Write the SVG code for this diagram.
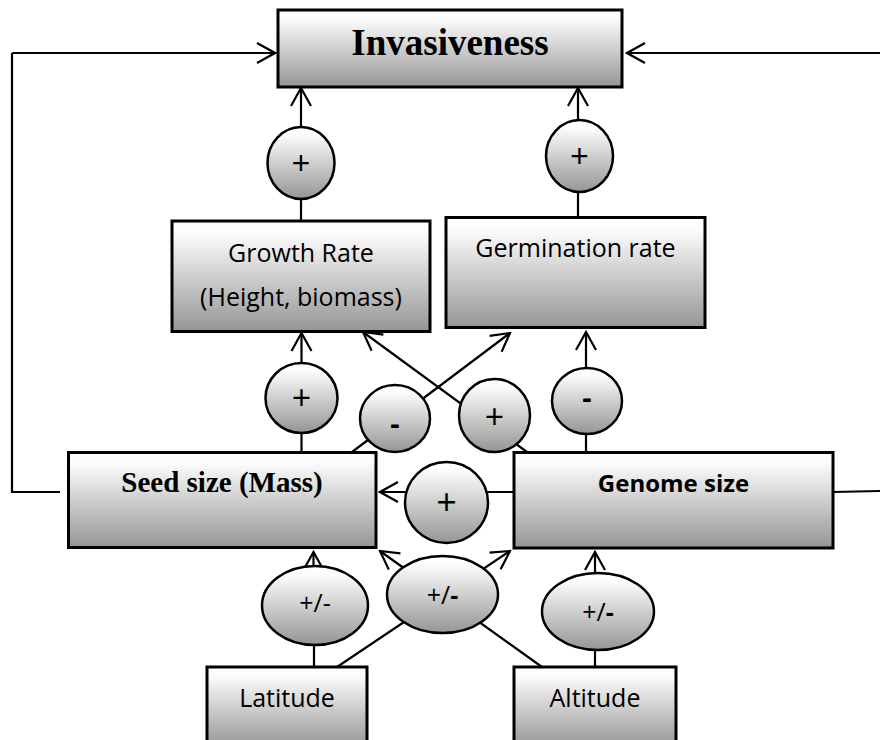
<svg xmlns="http://www.w3.org/2000/svg" width="880" height="740" viewBox="0 0 880 740">
<defs>
<linearGradient id="grad" x1="0" y1="0" x2="0" y2="1">
<stop offset="0" stop-color="#ffffff"/>
<stop offset="0.12" stop-color="#fbfbfb"/>
<stop offset="1" stop-color="#959595"/>
</linearGradient>
<marker id="arr" markerUnits="userSpaceOnUse" viewBox="-20 -12 22 24" refX="0" refY="0" markerWidth="22" markerHeight="24" orient="auto">
<path d="M-18,-10 L0,0 L-18,10" fill="none" stroke="#000" stroke-width="2.2"/>
</marker>
<style>
.box{fill:url(#grad);stroke:#000;stroke-width:3}
.oval{fill:url(#grad);stroke:#000;stroke-width:2.5}
.ln{fill:none;stroke:#000;stroke-width:2.2}
.ar{fill:none;stroke:#000;stroke-width:2.2;marker-end:url(#arr)}
.serif{font-family:"Liberation Serif","Times New Roman",serif;font-weight:bold;text-anchor:middle;fill:#000}
.sans{font-family:"Open Sans","Noto Sans",sans-serif;text-anchor:middle;fill:#000}
</style>
</defs>
<g id="connectors">
<polyline class="ln" points="60,492 12,492 12,53"/>
<line class="ar" x1="12" y1="53" x2="275" y2="53"/>
<line class="ln" x1="833" y1="492" x2="880" y2="491"/>
<line class="ar" x1="880" y1="53" x2="627" y2="53"/>
<line class="ar" x1="301" y1="127" x2="301" y2="88"/>
<line class="ln" x1="301" y1="199" x2="301" y2="221"/>
<line class="ar" x1="578" y1="120" x2="578" y2="88"/>
<line class="ln" x1="578" y1="192" x2="578" y2="217"/>
<line class="ar" x1="301.5" y1="363" x2="301.5" y2="333"/>
<line class="ln" x1="301.5" y1="433" x2="301.5" y2="452"/>
<line class="ar" x1="586" y1="368" x2="586" y2="332"/>
<line class="ln" x1="586" y1="434" x2="586" y2="452"/>
<line class="ar" x1="352" y1="452" x2="510" y2="333"/>
<line class="ar" x1="527" y1="452" x2="363" y2="332"/>
<line class="ar" x1="514" y1="492" x2="380" y2="492"/>
<line class="ar" x1="313.5" y1="566" x2="313.5" y2="552"/>
<line class="ln" x1="314" y1="645" x2="314" y2="667"/>
<line class="ar" x1="595" y1="573" x2="595" y2="552"/>
<line class="ln" x1="595" y1="650" x2="595" y2="667"/>
<line class="ar" x1="337" y1="667" x2="510" y2="551"/>
<line class="ar" x1="542" y1="667" x2="380" y2="551"/>
</g>
<g id="invasiveness">
<rect class="box" x="278" y="10" width="344" height="77"/>
<text class="serif" x="450" y="55" font-size="37">Invasiveness</text>
</g>
<g id="plus-growth-inv">
<ellipse class="oval" cx="301" cy="163" rx="33.5" ry="36"/>
<text class="sans" x="301" y="175" font-size="33">+</text>
</g>
<g id="plus-germ-inv">
<ellipse class="oval" cx="579.5" cy="156" rx="33.5" ry="36"/>
<text class="sans" x="579.5" y="168" font-size="33">+</text>
</g>
<g id="growth-rate">
<rect class="box" x="172" y="221" width="258" height="110.5"/>
<text class="sans" x="301" y="262" font-size="25">Growth Rate</text>
<text class="sans" x="301" y="306" font-size="25">(Height, biomass)</text>
</g>
<g id="germination-rate">
<rect class="box" x="446" y="217.5" width="259" height="110"/>
<text class="sans" x="575.5" y="257" font-size="25">Germination rate</text>
</g>
<g id="plus-seed-growth">
<ellipse class="oval" cx="301.5" cy="398" rx="36" ry="35"/>
<text class="sans" x="301.5" y="410" font-size="34">+</text>
</g>
<g id="minus-seed-germ">
<ellipse class="oval" cx="395" cy="418.5" rx="35" ry="33.5"/>
<text class="sans" x="395" y="434" font-size="29" font-weight="bold">-</text>
</g>
<g id="plus-genome-growth">
<ellipse class="oval" cx="494.5" cy="415.5" rx="35.5" ry="36.5"/>
<text class="sans" x="494.5" y="429" font-size="34">+</text>
</g>
<g id="minus-genome-germ">
<ellipse class="oval" cx="587" cy="401" rx="35" ry="33"/>
<text class="sans" x="587" y="408" font-size="29" font-weight="bold">-</text>
</g>
<g id="seed-size">
<rect class="box" x="68.5" y="452.5" width="307.5" height="95"/>
<text class="serif" x="222" y="491.5" font-size="29">Seed size (Mass)</text>
</g>
<g id="genome-size">
<rect class="box" x="514" y="452.5" width="319" height="95.5"/>
<text class="sans" x="673.5" y="492" font-size="24" font-weight="bold">Genome size</text>
</g>
<g id="plus-genome-seed">
<ellipse class="oval" cx="446.5" cy="502.5" rx="41.5" ry="40.5"/>
<text class="sans" x="446.5" y="515" font-size="36">+</text>
</g>
<g id="pm-latitude">
<ellipse class="oval" cx="315" cy="605.5" rx="53" ry="39.5"/>
<text class="sans" x="315" y="612" font-size="25">+/-</text>
</g>
<g id="pm-middle">
<ellipse class="oval" cx="442.5" cy="594.5" rx="55.5" ry="38.5"/>
<text class="sans" x="442.5" y="604" font-size="25">+/<tspan font-weight="bold">-</tspan></text>
</g>
<g id="pm-altitude">
<ellipse class="oval" cx="598" cy="611.5" rx="56" ry="38.5"/>
<text class="sans" x="598" y="621" font-size="25">+/<tspan font-weight="bold">-</tspan></text>
</g>
<g id="latitude">
<rect class="box" x="207" y="667" width="160" height="80"/>
<text class="sans" x="287" y="707" font-size="25">Latitude</text>
</g>
<g id="altitude">
<rect class="box" x="514" y="667" width="162" height="80"/>
<text class="sans" x="595" y="707" font-size="25">Altitude</text>
</g>
</svg>
